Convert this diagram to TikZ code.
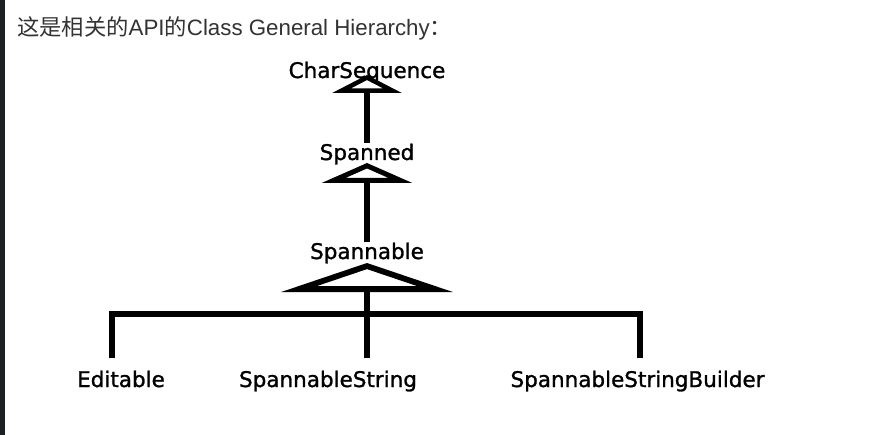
\documentclass[tikz,border=0pt]{standalone}
\usepackage{fontspec}
\setmainfont{Liberation Sans}
\newfontfamily\cjk{Noto Sans CJK SC}
\newfontfamily\labelfont[FakeBold=1.2]{DejaVu Sans}
\usepackage{xcolor}
\definecolor{ink}{HTML}{000000}
\definecolor{caption}{HTML}{333333}
\definecolor{frame}{HTML}{1F2023}
\usetikzlibrary{arrows.meta}

\begin{document}
\begin{tikzpicture}[x=1pt,y=-1pt,
  cls/.style={inner sep=0pt,anchor=base,font=\labelfont\fontsize{21.5}{24}\selectfont},
  leaf/.style={cls,inner ysep=12pt},
  wire/.style={draw=ink,line width=5.8pt},
  isa/.style 2 args={wire,-{Triangle[open,length=#1,width=#2]}}]
\fill[white] (0,0) rectangle (874,435);
\fill[frame] (0,0) rectangle (4.5,435);
\node[anchor=base west,inner sep=0pt,text=caption,font=\fontsize{22.3}{25}\selectfont] (title) at (17,36)
  {{\cjk 这是相关的}API{\cjk 的}Class General Hierarchy{\cjk ：}};
\node[cls] (charseq) at (367,78) {CharSequence};
\node[cls] (spanned) at (367,160) {Spanned};
\node[cls] (spannable) at (367,259) {Spannable};
\node[leaf] (editable) at (121,387) {Editable};
\node[leaf] (sstring) at (328,387) {SpannableString};
\node[leaf] (ssb) at (637.5,387) {SpannableStringBuilder};
\coordinate (bus) at (367,314);
\draw[isa={18pt}{69pt}] (spanned.north) -- ([yshift=3pt]charseq.base);
\draw[isa={20pt}{90pt}] (spannable.north) -- ([yshift=-3pt]spanned.base);
\draw[isa={29pt}{171pt}] (sstring.north -| bus) -- ([yshift=-4pt]spannable.base);
\draw[wire] ([xshift=-9pt]editable.north) |- (bus) -| ([xshift=2.5pt]ssb.north);
\end{tikzpicture}
\end{document}
